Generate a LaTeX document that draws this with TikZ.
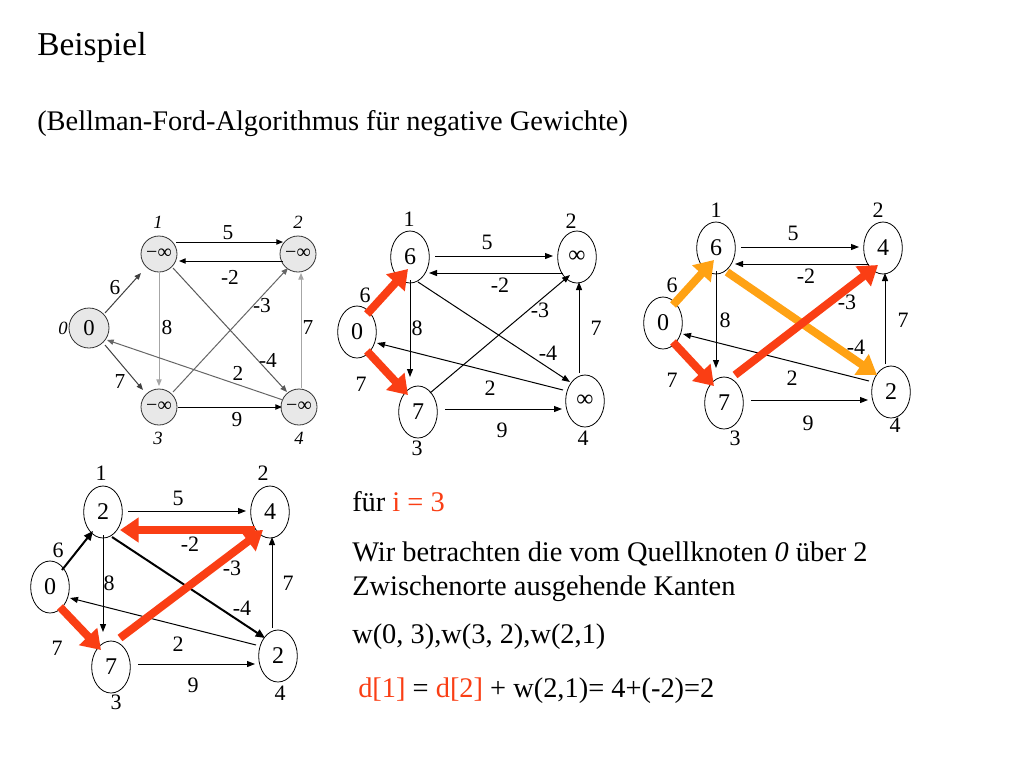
\documentclass[tikz,border=0pt]{standalone}
\usepackage{fontspec}
\setmainfont{Liberation Serif}
\usetikzlibrary{arrows.meta,calc,shapes.geometric}
\definecolor{hired}{RGB}{250,62,20}
\definecolor{hiorange}{RGB}{255,162,20}
\tikzset{
  tarr/.style={draw=black, line width=0.75pt, -{Triangle[length=6pt,width=4.5pt]}},
  garr/.style={line width=0.75pt, -{Triangle[length=5pt,width=4pt]}},
  hiarr/.style={line width=6pt, -{Triangle[length=14pt,width=18pt]}},
  medarr/.style={draw=black, line width=1.5pt, -{Triangle[length=7pt,width=6pt]}},
  ell/.style={ellipse, draw, line width=0.6pt, minimum width=29pt, minimum height=39pt, inner sep=0pt, font=\fontsize{18}{20}\selectfont},
  lbl/.style={inner sep=0pt, font=\fontsize{16.5}{18}\selectfont},
  glbl/.style={inner sep=0pt, font=\fontsize{16}{18}\selectfont},
  gname/.style={inner sep=0pt, font=\fontsize{14}{16}\selectfont\itshape},
  gnode/.style={circle, draw=black!80, fill=black!9, line width=0.6pt, minimum size=27pt, inner sep=0pt, font=\fontsize{15}{16}\selectfont},
  txt/.style={anchor=base west, inner sep=0pt, font=\fontsize{21.3}{25}\selectfont},
}
\begin{document}
\begin{tikzpicture}[x=0.75pt,y=-0.75pt]
\useasboundingbox (0,0) rectangle (1024,768);
\fill[white] (0,0) rectangle (1024,768);

% ---------- titles ----------
\node[anchor=base west, inner sep=0pt, font=\fontsize{25}{30}\selectfont] (title) at (37,55) {Beispiel};
\node[txt] (sub) at (37,130) {(Bellman-Ford-Algorithmus für negative Gewichte)};

% ---------- graph 1 (grey) ----------
\node[gnode, minimum size=30pt, font=\fontsize{17}{18}\selectfont] (a0) at (89,328) {0};
\node[gnode] (a1) at (159,254) {−∞};
\node[gnode] (a2) at (298,254) {−∞};
\node[gnode] (a3) at (159,407) {−∞};
\node[gnode] (a4) at (299,407) {−∞};
\node[gname] (an0) at (63,328) {0};
\node[gname] (an1) at (158,222) {1};
\node[gname] (an2) at (298,222) {2};
\node[gname] (an3) at (158,438) {3};
\node[gname] (an4) at (299,438) {4};
\draw[garr, black!75] ($(a0)+(16,-15)$) -- ($(a1)+(-18,19)$);
\draw[garr, black!75] ($(a0)+(16,17)$) -- ($(a3)+(-16,-17)$);
\draw[garr, black] ($(a1)+(17,-12)$) -- ($(a2)+(-15,-12)$);
\draw[garr, black] ($(a2)+(-15,7)$) -- ($(a1)+(20,7)$);
\draw[garr, black!35] ($(a1)+(0,19)$) -- ($(a3)+(0,-21)$);
\draw[garr, black!60] ($(a3)+(14,-15)$) -- ($(a2)+(-10,14)$);
\draw[garr, black!65] ($(a1)+(14,14)$) -- ($(a4)+(-12,-15)$);
\draw[garr, black!60] ($(a4)+(-16,-7)$) -- ($(a0)+(18,12)$);
\draw[garr, black] ($(a3)+(19,0)$) -- ($(a4)+(-17,0)$);
\draw[garr, black!35] ($(a4)+(2,-19)$) -- ($(a2)+(3,19)$);
\node[glbl] (al1) at (228,233) {5};
\node[glbl] (al2) at (230,277) {-2};
\node[glbl] (al3) at (115,288) {6};
\node[glbl] (al4) at (120,382) {7};
\node[glbl] (al5) at (167,328) {8};
\node[glbl] (al6) at (262,306) {-3};
\node[glbl] (al7) at (268,360) {-4};
\node[glbl] (al8) at (238,373) {2};
\node[glbl] (al9) at (237,420) {9};
\node[glbl] (al10) at (308,328) {7};

% ---------- graph 2 ----------
\begin{scope}[shift={(357,332)}]
\node[ell] (b0) at (0,0) {0};
\node[ell] (b1) at (53,-75) {6};
\node[ell] (b2) at (220,-75) {∞};
\node[ell] (b3) at (61,80) {7};
\node[ell] (b4) at (228,69) {∞};
\draw[tarr] ($(b1)+(25,-1)$) -- ($(b2)+(-24,-1)$);
\draw[tarr] ($(b2)+(-14,16)$) -- ($(b1)+(19,16)$);
\draw[hiarr, hired] ($(b0)+(10,-18)$) -- ($(b1)+(-2,12)$);
\draw[hiarr, hired] ($(b0)+(10,19)$) -- ($(b3)+(-10,-17)$);
\draw[tarr] ($(b1)+(0,23)$) -- ($(b3)+(-8,-35)$);
\draw[tarr] ($(b3)+(12,-19)$) -- ($(b2)+(-7,18)$);
\draw[tarr] ($(b1)+(8,25)$) -- ($(b4)+(-15,-19)$);
\draw[tarr] ($(b4)+(-22,-11)$) -- ($(b0)+(20,11)$);
\draw[tarr] ($(b3)+(27,-3)$) -- ($(b4)+(-23,8)$);
\draw[tarr] ($(b4)+(-6,-28)$) -- ($(b2)+(2,25)$);
\node[lbl] (bl1) at (130,-90) {5};
\node[lbl] (bl2) at (143,-47) {-2};
\node[lbl] (bl3) at (8,-37) {6};
\node[lbl] (bl4) at (4,52) {7};
\node[lbl] (bl5) at (60,-4) {8};
\node[lbl] (bl6) at (183,-22) {-3};
\node[lbl] (bl7) at (191,21) {-4};
\node[lbl] (bl8) at (133,56) {2};
\node[lbl] (bl9) at (145,98) {9};
\node[lbl] (bl10) at (239,-4) {7};
\node[lbl] (bn1) at (52,-113) {1};
\node[lbl] (bn2) at (214,-111) {2};
\node[lbl] (bn3) at (60,116) {3};
\node[lbl] (bn4) at (226,106) {4};
\end{scope}

% ---------- graph 3 ----------
\begin{scope}[shift={(663,323)}]
\node[ell] (c0) at (0,0) {0};
\node[ell] (c1) at (53,-75) {6};
\node[ell] (c2) at (220,-75) {4};
\node[ell] (c3) at (61,80) {7};
\node[ell] (c4) at (228,69) {2};
\draw[tarr] ($(c1)+(25,-1)$) -- ($(c2)+(-24,-1)$);
\draw[tarr] ($(c2)+(-14,16)$) -- ($(c1)+(19,16)$);
\draw[tarr] ($(c1)+(0,23)$) -- ($(c3)+(-8,-35)$);
\draw[tarr] ($(c4)+(-22,-11)$) -- ($(c0)+(20,11)$);
\draw[tarr] ($(c3)+(27,-3)$) -- ($(c4)+(-23,8)$);
\draw[tarr] ($(c4)+(-6,-28)$) -- ($(c2)+(2,25)$);
\draw[hiarr, hiorange] ($(c0)+(10,-18)$) -- ($(c1)+(-2,12)$);
\draw[hiarr, hired] ($(c0)+(10,19)$) -- ($(c3)+(-10,-17)$);
\draw[hiarr, hiorange] ($(c1)+(11,24)$) -- ($(c4)+(-14,-17)$);
\draw[hiarr, hired] ($(c3)+(11,-28)$) -- ($(c2)+(-5,17)$);
\node[lbl] (cl1) at (130,-90) {5};
\node[lbl] (cl2) at (143,-47) {-2};
\node[lbl] (cl3) at (9,-38) {6};
\node[lbl] (cl4) at (9,57) {7};
\node[lbl] (cl5) at (62,-3) {8};
\node[lbl] (cl6) at (184,-21) {-3};
\node[lbl] (cl7) at (193,24) {-4};
\node[lbl] (cl8) at (129,55) {2};
\node[lbl] (cl9) at (145,100) {9};
\node[lbl] (cl10) at (240,-3) {7};
\node[lbl] (cn1) at (53,-113) {1};
\node[lbl] (cn2) at (215,-113) {2};
\node[lbl] (cn3) at (72,115) {3};
\node[lbl] (cn4) at (232,102) {4};
\end{scope}

% ---------- graph 4 ----------
\begin{scope}[shift={(50,587)}]
\node[ell] (d0) at (0,0) {0};
\node[ell] (d1) at (53,-75) {2};
\node[ell] (d2) at (220,-75) {4};
\node[ell] (d3) at (61,80) {7};
\node[ell] (d4) at (228,69) {2};
\draw[tarr] ($(d1)+(25,-1)$) -- ($(d2)+(-24,-1)$);
\draw[tarr] ($(d1)+(0,23)$) -- ($(d3)+(-8,-35)$);
\draw[tarr] ($(d4)+(-22,-11)$) -- ($(d0)+(20,11)$);
\draw[tarr] ($(d3)+(27,-3)$) -- ($(d4)+(-23,8)$);
\draw[tarr] ($(d4)+(-6,-28)$) -- ($(d2)+(2,25)$);
\draw[medarr] ($(d0)+(12,-17)$) -- ($(d1)+(-10,19)$);
\draw[medarr] ($(d1)+(9,25)$) -- ($(d4)+(-13,-18)$);
\draw[hiarr, hired] ($(d2)+(-15,18)$) -- ($(d1)+(17,18)$);
\draw[hiarr, hired] ($(d0)+(10,20)$) -- ($(d3)+(-10,-17)$);
\draw[hiarr, hired] ($(d3)+(9,-29)$) -- ($(d2)+(-7,18)$);
\node[lbl] (dl1) at (128,-89) {5};
\node[lbl] (dl2) at (140,-43) {-2};
\node[lbl] (dl3) at (8,-37) {6};
\node[lbl] (dl4) at (7,61) {7};
\node[lbl] (dl5) at (59,-4) {8};
\node[lbl] (dl6) at (182,-19) {-3};
\node[lbl] (dl7) at (192,21) {-4};
\node[lbl] (dl8) at (128,57) {2};
\node[lbl] (dl9) at (143,98) {9};
\node[lbl] (dl10) at (238,-4) {7};
\node[lbl] (dn1) at (51,-114) {1};
\node[lbl] (dn2) at (213,-114) {2};
\node[lbl] (dn3) at (66,115) {3};
\node[lbl] (dn4) at (230,106) {4};
\end{scope}

% ---------- text ----------
\node[txt] (t1) at (352,511) {für \textcolor{hired}{i = 3}};
\node[txt] (t2) at (352,561) {Wir betrachten die vom Quellknoten \textit{0} über 2};
\node[txt] (t3) at (352,595) {Zwischenorte ausgehende Kanten};
\node[txt] (t4) at (352,643) {w(0, 3),w(3, 2),w(2,1)};
\node[txt] (t5) at (358,697) {\textcolor{hired}{d[1]} = \textcolor{hired}{d[2]} + w(2,1)= 4+(-2)=2};
\end{tikzpicture}
\end{document}
